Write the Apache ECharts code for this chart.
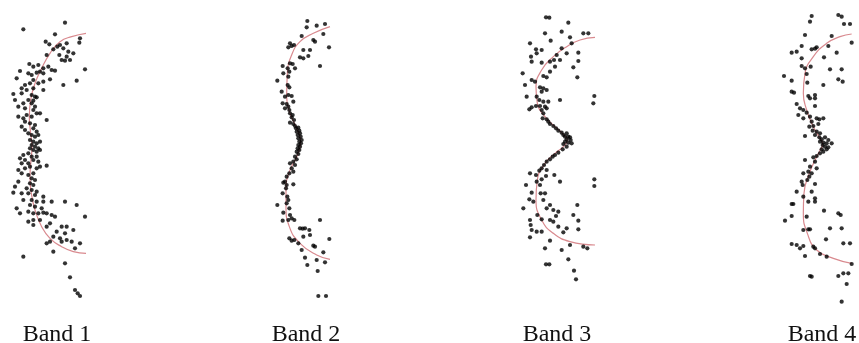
<!DOCTYPE html>
<html><head><meta charset="utf-8">
<script src="https://cdn.jsdelivr.net/npm/echarts@6/dist/echarts.min.js"></script>
<style>html,body{margin:0;padding:0;background:#fff}#c{width:859px;height:343px}</style>
</head><body><div id="c"></div>
<script>
const bandLabels = ["Band 1", "Band 2", "Band 3", "Band 4"];

const band1Points = [[195,68],[70,88],[165,103],[137,125],[148,133],[180,135],[200,130],[240,115],[238,128],[160,148],[172,140],[190,145],[205,155],[220,160],[140,165],[178,165],[200,170],[185,180],[195,182],[210,180],[255,208],[230,242],[190,255],[88,192],[100,200],[115,195],[130,205],[145,200],[155,210],[165,212],[60,213],[50,235],[85,220],[95,225],[110,218],[120,215],[130,220],[100,240],[130,245],[150,238],[75,255],[90,250],[115,250],[65,265],[80,270],[100,265],[130,270],[40,282],[65,280],[95,285],[105,290],[45,300],[85,300],[100,302],[110,292],[70,310],[95,310],[105,320],[55,320],[75,325],[100,330],[110,340],[120,340],[80,345],[55,350],[70,355],[95,350],[140,360],[75,365],[90,370],[105,375],[65,380],[100,385],[75,390],[110,395],[85,400],[95,405],[105,410],[115,405],[90,420],[100,425],[110,430],[120,425],[95,435],[105,440],[115,445],[90,445],[100,450],[110,455],[120,450],[85,460],[70,465],[95,470],[110,470],[60,475],[75,480],[100,480],[115,485],[65,490],[85,490],[140,497],[55,510],[75,505],[90,500],[110,505],[120,500],[65,520],[100,520],[85,525],[95,535],[105,540],[55,545],[90,550],[100,555],[45,560],[80,565],[95,570],[110,575],[40,578],[65,580],[85,580],[105,585],[130,590],[70,600],[95,600],[110,605],[130,605],[155,605],[195,605],[50,625],[90,615],[105,620],[125,625],[60,640],[85,635],[100,640],[115,640],[130,638],[140,640],[155,645],[165,650],[120,660],[85,665],[100,660],[140,680],[150,670],[185,680],[200,680],[220,690],[170,695],[160,710],[180,715],[195,700],[200,720],[215,725],[185,725],[140,730],[150,725],[240,730],[225,745],[160,755],[70,770],[195,790],[210,832],[225,870],[233,880],[240,888],[230,615],[255,650],[100,675]];
const band1Curve = [[258,100],[215,110],[180,125],[150,160],[125,205],[105,250],[92,300],[88,350],[92,400],[96,440],[93,480],[90,530],[94,580],[105,630],[125,680],[150,715],[185,740],[220,755],[258,760]];

const band2Points = [[172,63],[170,82],[200,77],[225,72],[220,102],[237,142],[155,108],[190,120],[195,125],[120,130],[125,138],[132,135],[115,142],[160,150],[180,150],[150,172],[160,175],[175,168],[210,198],[98,198],[120,190],[128,192],[135,205],[100,220],[113,205],[118,215],[115,230],[82,242],[113,255],[118,262],[95,275],[105,290],[115,285],[125,288],[130,305],[98,310],[110,312],[115,320],[105,325],[118,330],[120,340],[128,345],[125,352],[132,360],[120,368],[130,372],[135,378],[138,385],[145,383],[148,392],[140,395],[150,400],[143,405],[152,410],[145,415],[155,420],[148,425],[153,430],[145,435],[150,440],[143,445],[148,450],[140,455],[145,462],[135,470],[140,478],[130,485],[120,490],[135,495],[125,505],[130,515],[118,520],[110,530],[105,545],[100,548],[110,555],[130,553],[108,565],[98,580],[112,590],[115,600],[82,615],[110,610],[118,625],[100,638],[120,645],[125,655],[115,660],[98,662],[133,660],[210,660],[150,685],[158,686],[165,685],[178,690],[180,705],[160,710],[118,715],[125,722],[133,720],[145,730],[190,737],[195,740],[155,750],[220,757],[238,717],[165,773],[200,780],[225,787],[172,795],[203,813],[205,888],[228,888]];
const band2Curve = [[240,80],[190,100],[150,125],[125,165],[112,220],[110,290],[120,340],[140,385],[152,425],[140,470],[120,510],[108,560],[108,620],[118,680],[150,730],[200,765],[240,778]];

const band3Points = [[138,52],[148,53],[205,68],[135,100],[185,95],[250,100],[265,100],[210,112],[152,122],[90,130],[108,148],[125,150],[185,145],[215,130],[110,160],[170,165],[200,160],[235,158],[93,170],[180,180],[235,183],[95,185],[125,188],[150,185],[162,180],[220,202],[165,200],[150,215],[130,228],[68,220],[95,240],[105,245],[140,232],[75,255],[232,232],[120,262],[130,265],[125,275],[140,270],[80,290],[110,290],[118,300],[130,305],[145,305],[180,300],[283,288],[280,310],[95,322],[108,318],[120,318],[135,320],[88,328],[125,330],[140,325],[130,340],[128,355],[140,358],[145,365],[150,372],[160,378],[168,385],[175,392],[185,398],[190,405],[200,400],[195,410],[205,410],[210,412],[200,418],[212,420],[195,425],[205,428],[215,430],[190,432],[200,440],[188,448],[175,458],[165,465],[158,470],[150,478],[140,485],[132,495],[125,505],[140,510],[118,512],[90,520],[108,525],[138,528],[125,538],[163,525],[180,545],[110,545],[78,555],[120,555],[95,578],[122,580],[135,580],[88,598],[100,605],[130,600],[150,615],[232,615],[70,625],[140,625],[160,630],[175,635],[112,645],[168,648],[220,645],[90,660],[125,658],[150,660],[160,665],[235,662],[92,675],[175,680],[200,685],[235,688],[95,690],[110,695],[125,695],[190,697],[90,712],[150,722],[210,735],[250,740],[262,745],[135,745],[185,750],[205,778],[138,793],[148,793],[222,812],[228,838],[283,538],[283,558]];
const band3Curve = [[285,112],[240,120],[200,140],[160,170],[125,210],[108,260],[112,310],[135,350],[165,380],[192,405],[202,420],[190,440],[165,460],[135,490],[112,540],[108,600],[125,660],[160,700],[210,725],[285,735]];

const band4Points = [[125,48],[120,65],[205,45],[215,50],[222,72],[240,72],[105,105],[185,108],[245,128],[95,138],[80,155],[65,158],[125,148],[135,146],[140,142],[175,138],[200,158],[162,172],[95,175],[95,198],[105,205],[122,200],[180,208],[215,208],[42,228],[110,222],[205,238],[218,245],[65,242],[160,255],[112,248],[65,275],[72,278],[135,285],[115,288],[120,295],[135,295],[80,312],[90,325],[100,330],[135,318],[110,338],[85,345],[120,350],[140,355],[148,358],[160,355],[100,355],[125,365],[130,378],[145,372],[118,380],[128,392],[140,395],[105,408],[135,405],[150,400],[148,412],[155,418],[165,412],[175,420],[150,425],[160,428],[170,430],[185,430],[158,435],[165,440],[175,442],[155,448],[170,448],[160,455],[150,460],[140,468],[130,472],[105,480],[135,485],[120,500],[140,505],[115,515],[125,520],[100,520],[118,530],[95,545],[112,540],[98,555],[135,552],[80,575],[125,575],[100,590],[115,605],[135,595],[135,605],[70,612],[65,612],[162,632],[205,640],[212,645],[45,662],[65,648],[110,650],[180,685],[215,685],[100,690],[115,688],[120,688],[168,718],[65,732],[80,735],[90,745],[100,738],[130,740],[135,745],[220,730],[240,730],[150,762],[170,770],[105,768],[245,792],[120,828],[125,830],[205,828],[220,820],[235,820],[230,852],[215,905]];
const band4Curve = [[245,102],[210,110],[170,130],[130,170],[105,220],[100,280],[110,330],[130,380],[150,415],[158,432],[148,455],[140,470],[118,520],[102,580],[100,640],[112,700],[140,750],[190,775],[245,790]];

const panels = [
  {pts: band1Points, curve: band1Curve, left: 0, width: 110, xmax: 330, labelX: 57},
  {pts: band2Points, curve: band2Curve, left: 250, width: 110, xmax: 330, labelX: 306},
  {pts: band3Points, curve: band3Curve, left: 500, width: 110, xmax: 330, labelX: 557},
  {pts: band4Points, curve: band4Curve, left: 770, width: 89, xmax: 267, labelX: 822}
];

const chart = echarts.init(document.getElementById('c'), null, {renderer: 'canvas'});
const grid = [], xAxis = [], yAxis = [], series = [], graphic = [];
panels.forEach((p, i) => {
  grid.push({left: p.left, top: 0, width: p.width, height: 310, containLabel: false});
  xAxis.push({type: 'value', gridIndex: i, min: 0, max: p.xmax, show: false});
  yAxis.push({type: 'value', gridIndex: i, min: 0, max: 930, inverse: true, show: false});
  series.push({type: 'line', xAxisIndex: i, yAxisIndex: i, data: p.curve, smooth: 0.5, showSymbol: false,
    lineStyle: {color: '#d98a8f', width: 1.2}, silent: true, z: 1, animation: false});
  series.push({type: 'scatter', xAxisIndex: i, yAxisIndex: i, data: p.pts, symbolSize: 4.2,
    itemStyle: {color: '#000'}, z: 2, animation: false});
  graphic.push({type: 'text', x: p.labelX, y: 335, style: {text: bandLabels[i], align: 'center', verticalAlign: 'middle',
    font: '24px "Liberation Serif"', fill: '#111'}});
});
chart.setOption({animation: false, backgroundColor: '#fff', grid, xAxis, yAxis, series, graphic});
</script></body></html>
